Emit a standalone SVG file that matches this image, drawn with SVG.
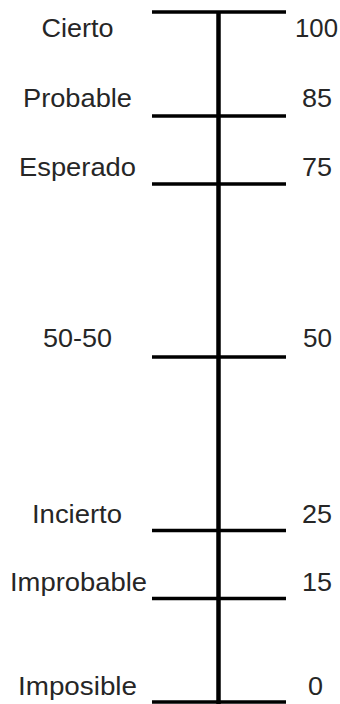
<svg xmlns="http://www.w3.org/2000/svg" width="340" height="704" viewBox="0 0 340 704">
  <style>
    .lbl { font-family: "Liberation Sans", Arial, sans-serif; font-size: 25px; fill: #262626; text-anchor: middle; }
    .tick { stroke: #000; stroke-width: 3.5; fill: none; }
    .axis { stroke: #000; stroke-width: 4.5; fill: none; }
  </style>
  <rect width="340" height="704" fill="#fff"/>
  <g id="connectors">
    <line class="axis" x1="218.5" y1="11" x2="218.5" y2="704"/>
  </g>
  <g id="cierto">
    <line class="tick" x1="152" y1="12" x2="286" y2="12"/>
    <text class="lbl" x="77.5" y="37" textLength="72" lengthAdjust="spacingAndGlyphs">Cierto</text>
    <text class="lbl" x="316.5" y="37" textLength="43" lengthAdjust="spacingAndGlyphs">100</text>
  </g>
  <g id="probable">
    <line class="tick" x1="152" y1="116" x2="286" y2="116"/>
    <text class="lbl" x="77.5" y="107" textLength="109" lengthAdjust="spacingAndGlyphs">Probable</text>
    <text class="lbl" x="317" y="107" textLength="30" lengthAdjust="spacingAndGlyphs">85</text>
  </g>
  <g id="esperado">
    <line class="tick" x1="152" y1="184" x2="286" y2="184"/>
    <text class="lbl" x="77.5" y="176" textLength="117" lengthAdjust="spacingAndGlyphs">Esperado</text>
    <text class="lbl" x="317" y="176" textLength="30" lengthAdjust="spacingAndGlyphs">75</text>
  </g>
  <g id="cincuenta">
    <line class="tick" x1="152" y1="357" x2="286" y2="357" stroke-width="4.5"/>
    <text class="lbl" x="77.5" y="347" textLength="69" lengthAdjust="spacingAndGlyphs">50-50</text>
    <text class="lbl" x="317.5" y="347" textLength="29" lengthAdjust="spacingAndGlyphs">50</text>
  </g>
  <g id="incierto">
    <line class="tick" x1="152" y1="530.5" x2="286" y2="530.5"/>
    <text class="lbl" x="77" y="523" textLength="90" lengthAdjust="spacingAndGlyphs">Incierto</text>
    <text class="lbl" x="317" y="523" textLength="30" lengthAdjust="spacingAndGlyphs">25</text>
  </g>
  <g id="improbable">
    <line class="tick" x1="152" y1="598.5" x2="286" y2="598.5"/>
    <text class="lbl" x="78.5" y="591" textLength="137" lengthAdjust="spacingAndGlyphs">Improbable</text>
    <text class="lbl" x="317" y="591" textLength="30" lengthAdjust="spacingAndGlyphs">15</text>
  </g>
  <g id="imposible">
    <line class="tick" x1="152" y1="702" x2="286" y2="702"/>
    <text class="lbl" x="77.5" y="695" textLength="119" lengthAdjust="spacingAndGlyphs">Imposible</text>
    <text class="lbl" x="315.5" y="695" textLength="15" lengthAdjust="spacingAndGlyphs">0</text>
  </g>
</svg>
